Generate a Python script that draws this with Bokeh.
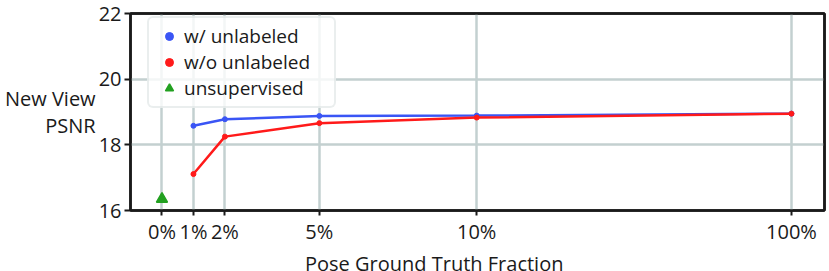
from bokeh.plotting import figure
from bokeh.layouts import column
from bokeh.models import (Range1d, FixedTicker, Legend, LegendItem, ColumnDataSource,
                          LinearAxis, Div)
from bokeh.embed import file_html
from bokeh.resources import INLINE

# ---- data ----
fractions = [1, 2, 5, 10, 100]                     # percent of pose ground truth
psnr_with_unlabeled = [18.58, 18.78, 18.88, 18.89, 18.95]
psnr_without_unlabeled = [17.11, 18.25, 18.66, 18.83, 18.95]
unsup_fraction = [0]
psnr_unsupervised = [16.35]
tick_fractions = [0, 1, 2, 5, 10, 100]
tick_labels = ["0%", "1%", "2%", "5%", "10%", "100%"]
y_ticks = [16, 18, 20, 22]

FONT = "Open Sans"
INK = "#1a1a1a"
BLUE = "#3a55f5"
RED = "#ff1a1a"
GREEN = "#22a020"
GRID = "#c3d0d0"


def axis_pos(f):
    # broken axis: linear up to 10%, the 10%-100% span compressed to one 10% width
    return f if f <= 10 else 10 + (f - 10) / 9.0


p = figure(width=827, height=247, output_backend="svg", toolbar_location=None,
           x_range=Range1d(-1, 21.05), y_range=Range1d(16, 22),
           min_border_left=130, min_border_right=3, min_border_top=13, min_border_bottom=0)
p.background_fill_color = "white"
p.border_fill_color = "white"
p.outline_line_color = INK
p.outline_line_width = 2.5

xa = p.below[0]
ya = p.left[0]

src_w = ColumnDataSource(dict(x=[axis_pos(f) for f in fractions], y=psnr_with_unlabeled))
src_wo = ColumnDataSource(dict(x=[axis_pos(f) for f in fractions], y=psnr_without_unlabeled))
src_u = ColumnDataSource(dict(x=[axis_pos(f) for f in unsup_fraction], y=psnr_unsupervised))

p.line("x", "y", source=src_w, line_color=BLUE, line_width=2.5)
r_w = p.scatter("x", "y", source=src_w, marker="circle", size=5, fill_color=BLUE, line_color=BLUE)
p.line("x", "y", source=src_wo, line_color=RED, line_width=2.5)
r_wo = p.scatter("x", "y", source=src_wo, marker="circle", size=5, fill_color=RED, line_color=RED)
r_u = p.scatter("x", "y", source=src_u, marker="triangle", size=11, fill_color=GREEN,
                line_color=GREEN, line_width=1.5)

# frame on top / right
for side in ("above", "right"):
    ax = LinearAxis(ticker=FixedTicker(ticks=[], minor_ticks=[]), axis_line_color=INK,
                    axis_line_width=2.5, major_tick_line_color=None, minor_tick_line_color=None)
    p.add_layout(ax, side)

# axes
xa.ticker = FixedTicker(ticks=[axis_pos(t) for t in tick_fractions])
xa.major_label_overrides = {axis_pos(t): lab for t, lab in zip(tick_fractions, tick_labels)}
ya.ticker = FixedTicker(ticks=y_ticks)
for ax in (xa, ya):
    ax.axis_line_color = INK
    ax.axis_line_width = 2.5
    ax.major_tick_line_color = INK
    ax.major_tick_line_width = 2
    ax.major_tick_out = 6
    ax.major_tick_in = 0
    ax.minor_tick_line_color = None
    ax.major_label_text_font = FONT
    ax.major_label_text_font_size = "20px"
    ax.major_label_text_color = INK
    ax.major_label_text_line_height = 1.0
xa.major_tick_out = 5
xa.major_label_standoff = 2
ya.major_label_standoff = 3

ya.axis_label = "New View\nPSNR"
ya.axis_label_orientation = "horizontal"
ya.axis_label_text_font = FONT
ya.axis_label_text_font_size = "20px"
ya.axis_label_text_font_style = "normal"
ya.axis_label_text_color = INK
ya.axis_label_text_align = "center"
ya.axis_label_text_line_height = 1.0
ya.axis_label_standoff = 0

p.xgrid.ticker = FixedTicker(ticks=[axis_pos(t) for t in tick_fractions])
p.ygrid.ticker = FixedTicker(ticks=[18, 20])
p.grid.grid_line_color = GRID
p.grid.grid_line_width = 2.5

legend = Legend(items=[LegendItem(label="w/ unlabeled", renderers=[r_w]),
                       LegendItem(label="w/o unlabeled", renderers=[r_wo]),
                       LegendItem(label="unsupervised", renderers=[r_u])],
                location=(17, 102))
legend.label_text_font = FONT
legend.label_text_font_size = "19px"
legend.label_text_color = INK
legend.label_text_line_height = 1.0
legend.label_height = 24
legend.label_width = 145
legend.glyph_height = 20
legend.glyph_width = 30
legend.label_standoff = 0
legend.spacing = 0
legend.padding = 5
legend.margin = 0
legend.border_line_color = "#d5dede"
legend.border_line_width = 2
legend.background_fill_color = "white"
legend.background_fill_alpha = 0.8
legend.border_radius = 6
p.add_layout(legend, "center")

x_title = Div(text="Pose Ground Truth Fraction", width=827, height=24,
              styles={"font-family": FONT, "font-size": "20px", "color": INK,
                      "padding-left": "300px", "line-height": "23px",
                      "white-space": "nowrap", "overflow": "visible"})

layout = column(p, x_title, spacing=0)
open("out.html", "w").write(file_html(layout, INLINE))
